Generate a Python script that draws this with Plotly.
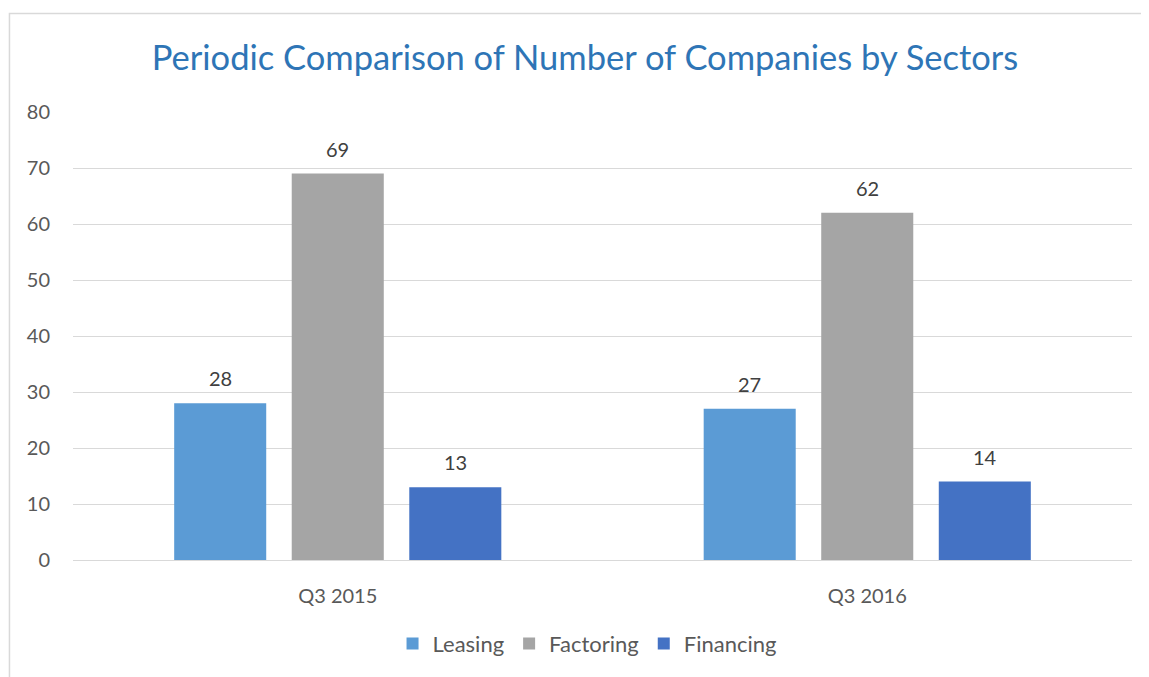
import plotly.graph_objects as go

categories = ["Q3 2015", "Q3 2016"]
leasing = [28, 27]
factoring = [69, 62]
financing = [13, 14]
series_names = ["Leasing", "Factoring", "Financing"]
colors = ["#5B9BD5", "#A5A5A5", "#4472C4"]

FONT = "Lato"
W, H = 1141, 669
ML, MR, MT, MB = 65, 17, 104, 115
BARGAP, BARGROUPGAP = 0.334, 0.217

fig = go.Figure()
for name, vals, c in zip(series_names, [leasing, factoring, financing], colors):
    fig.add_trace(go.Bar(x=categories, y=vals, name=name, marker_color=c,
                         marker_line_width=0))

plot_w = W - ML - MR
slot = plot_w / len(categories) * (1 - BARGAP) / len(series_names)
annotations = []
for i, vals in enumerate([leasing, factoring, financing]):
    for cat, v in zip(categories, vals):
        annotations.append(dict(x=cat, y=v, text=str(v), showarrow=False,
                                xshift=(i - 1) * slot, yshift=25, yanchor="middle",
                                font=dict(family=FONT, size=20, color="#404040")))

fig.update_layout(
    width=W, height=H,
    margin=dict(l=ML, r=MR, t=MT, b=MB),
    paper_bgcolor="white", plot_bgcolor="white",
    barmode="group", bargap=BARGAP, bargroupgap=BARGROUPGAP,
    title=dict(text="Periodic Comparison of Number of Companies by Sectors",
               x=0.5057, xanchor="center", y=0.926, yanchor="middle",
               yref="container",
               font=dict(family=FONT, size=34.5, color="#2E75B6")),
    font=dict(family=FONT, color="#595959"),
    yaxis=dict(range=[0, 80], dtick=10, showgrid=True, gridcolor="#D9D9D9",
               gridwidth=1.3, zeroline=False, showline=False,
               tickfont=dict(family=FONT, size=20, color="#595959"),
               ticklabelstandoff=22),
    xaxis=dict(showgrid=False, showline=True, linecolor="#D9D9D9", linewidth=1.3,
               tickfont=dict(family=FONT, size=20, color="#595959"),
               ticklabelstandoff=18),
    legend=dict(orientation="h", x=0.4854, xanchor="center", y=-0.1867,
                yanchor="middle", font=dict(family=FONT, size=22, color="#595959"),
                itemwidth=30, traceorder="normal"),
    annotations=annotations,
    showlegend=True,
)
fig.add_shape(type="rect", xref="paper", yref="paper",
              x0=-0.06, x1=1.2, y0=-0.5, y1=1.22,
              line=dict(color="#D9D9D9", width=1.5), fillcolor="rgba(0,0,0,0)")

fig.write_html("out.html")
